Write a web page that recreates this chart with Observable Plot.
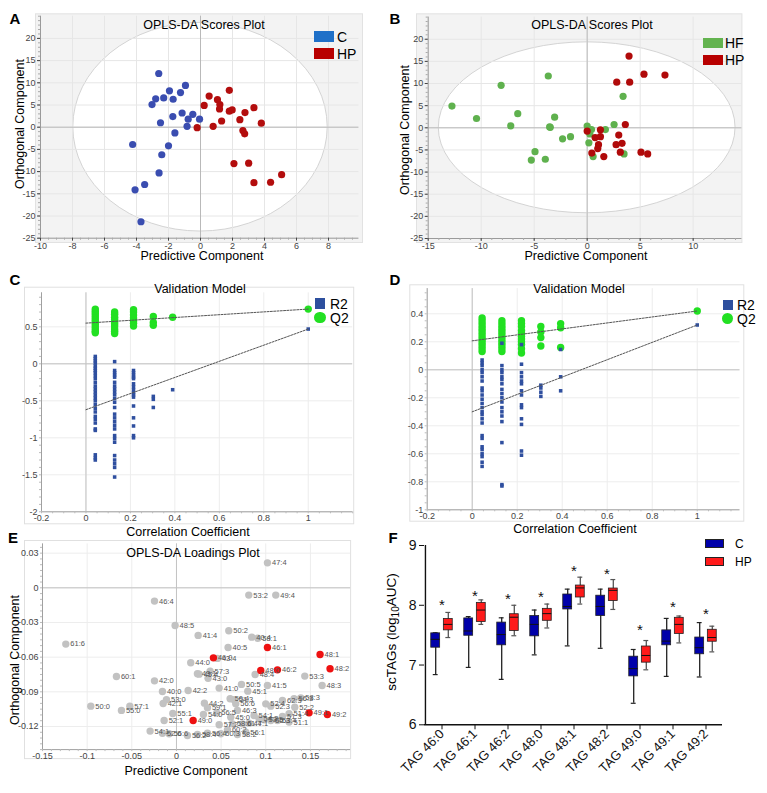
<!DOCTYPE html>
<html><head><meta charset="utf-8">
<script src="https://cdn.jsdelivr.net/npm/d3@7"></script>
<script src="https://cdn.jsdelivr.net/npm/@observablehq/plot@0.6"></script>
<style>
body{margin:0;background:#fff;}
#root{position:relative;width:767px;height:793px;overflow:hidden;font-family:"Liberation Sans",Arial,Helvetica,sans-serif;color:#000;}
#root svg{position:absolute;}
sub{font-size:10px;vertical-align:-3px;}
</style></head><body><div id="root"></div>
<script>
// ---------- DATA ----------
// Panel A: OPLS-DA scores, C vs HP  [predictive, orthogonal]
const scoresA_C = [[-2.61,12.1],[-0.94,9.4],[-1.94,8.2],[-1.25,7.8],[-2.8,6.4],[-2.3,6.6],[-1.71,6.3],[-3.03,5.1],[-1.15,3.2],[-0.48,2.9],[-1.73,2.4],[-0.77,1.8],[-0.06,1.8],[-2.5,1.0],[-0.84,0.2],[-1.6,-1.3],[-4.24,-3.9],[-2.0,-4.2],[-2.42,-6.2],[-2.59,-10.3],[-3.49,-12.9],[-4.09,-14.1],[-3.72,-21.3]];
const scoresA_HP = [[1.8,8.3],[0.54,7.0],[1.06,6.2],[0.23,4.9],[1.21,5.1],[1.19,4.1],[1.8,3.6],[1.98,3.9],[3.34,4.4],[2.78,3.3],[2.46,1.7],[1.32,1.4],[3.8,0.9],[-0.21,-0.1],[0.79,0.2],[2.65,-0.75],[2.76,-1.5],[2.09,-8.2],[3.01,-8.1],[3.34,-12.5],[4.38,-12.4],[5.07,-10.7]];
// Panel B: OPLS-DA scores, HF vs HP
const scoresB_HF = [[-3.67,11.7],[-8.12,9.6],[-12.76,4.9],[-10.44,2.1],[-6.55,3.2],[-7.21,0.45],[-3.07,2.4],[-3.54,0.2],[-3.48,0.1],[-2.32,-2.5],[-1.57,-2.0],[-4.92,-5.4],[-5.27,-7.3],[-3.95,-7.1],[0.0,0.4],[0.41,-0.4],[0.25,-1.4],[0.16,-3.4],[0.56,-6.5],[1.72,-0.4],[2.54,0.75],[3.39,7.1],[3.48,-5.9]];
const scoresB_HP = [[3.95,16.2],[5.36,12.1],[7.34,11.9],[2.79,10.3],[4.01,10.3],[3.6,0.75],[0.0,-0.75],[1.25,-0.45],[0.75,-2.2],[1.25,-2.0],[1.07,-3.8],[1.0,-4.7],[0.44,-5.7],[1.57,-6.5],[2.98,-1.65],[3.29,-3.5],[2.73,-3.8],[3.13,-5.5],[5.08,-5.5],[5.71,-5.9]];
const ellipseA = [7.95, 23.5];   // Hotelling T2 ellipse semi-axes
const ellipseB = [14.0, 19.3];
const scoresXTicksA = [-10,-8,-6,-4,-2,0,2,4,6,8];
const scoresXTicksB = [-15,-10,-5,0,5,10];
const scoresYTicks = [-25,-20,-15,-10,-5,0,5,10,15,20];

// Panel C: permutation validation (C vs HP)
const permXC = [0.042, 0.129, 0.214, 0.303, 0.39, 1.0];
const q2C = [[0.74,0.71,0.68,0.65,0.62,0.59,0.56,0.53,0.50,0.47,0.44,0.42],[0.70,0.67,0.63,0.60,0.57,0.54,0.51,0.47,0.44,0.41],[0.73,0.70,0.66,0.62,0.58,0.55,0.51],[0.64,0.56,0.52],[0.63],[0.74]];
const r2C = [[0.10,0.07,0.04,0.01,-0.03,-0.06,-0.09,-0.12,-0.16,-0.20,-0.25,-0.30,-0.34,-0.38,-0.42,-0.46,-0.50,-0.55,-0.60,-0.65,-0.71,-0.75,-0.80,-0.88,-0.90,-1.23,-1.27,-1.30],[0.03,-0.09,-0.12,-0.15,-0.18,-0.25,-0.30,-0.34,-0.38,-0.42,-0.47,-0.52,-0.59,-0.68,-0.73,-0.78,-0.83,-0.88,-0.97,-1.01,-1.06,-1.24,-1.30,-1.35,-1.40,-1.53],[-0.09,-0.12,-0.15,-0.18,-0.20,-0.27,-0.31,-0.35,-0.39,-0.42,-0.45,-0.57,-0.73,-0.84,-0.97,-1.00],[-0.44,-0.48,-0.59],[-0.35],[0.47]];
const q2LineC = [[0,0.55],[1,0.74]];
const r2LineC = [[0,-0.62],[1,0.47]];
const valXTicks = [-0.2,0,0.2,0.4,0.6,0.8,1];
const valYTicksC = [-2,-1.5,-1,-0.5,0,0.5];

// Panel D: permutation validation (HF vs HP)
const permXD = [0.044, 0.132, 0.219, 0.305, 0.393, 1.0];
const q2D = [[0.37,0.35,0.33,0.31,0.29,0.27,0.25,0.23,0.21,0.19,0.17,0.15,0.13],[0.35,0.33,0.31,0.29,0.27,0.25,0.23,0.21,0.19,0.17,0.15,0.13],[0.35,0.33,0.31,0.28,0.26,0.24,0.22,0.20,0.18,0.15,0.12],[0.31,0.27,0.23,0.17],[0.33,0.30,0.16],[0.42]];
const r2D = [[0.07,0.05,0.03,0.0,-0.02,-0.05,-0.08,-0.13,-0.15,-0.18,-0.21,-0.24,-0.27,-0.30,-0.32,-0.35,-0.38,-0.47,-0.49,-0.55,-0.57,-0.60,-0.62,-0.66,-0.69],[0.19,0.03,0.0,-0.02,-0.05,-0.07,-0.10,-0.14,-0.17,-0.20,-0.23,-0.27,-0.30,-0.33,-0.37,-0.52,-0.82,-0.83],[0.18,0.04,-0.02,-0.05,-0.08,-0.10,-0.15,-0.18,-0.25,-0.27,-0.35,-0.39,-0.58,-0.61],[-0.11,-0.13,-0.16,-0.19],[0.145,-0.05,-0.15],[0.32]];
const q2LineD = [[0,0.207],[1,0.42]];
const r2LineD = [[0,-0.30],[1,0.32]];
const valYTicksD = [-1,-0.8,-0.6,-0.4,-0.2,0,0.2,0.4];

// Panel E: loadings [label, predictive, orthogonal, significant]
const loadingLabels = ["47:4","53:2","49:4","46:4","48:5","41:4","50:2","40:4","58:1","61:6","40:5","46:1","46:0","43:4","44:0","57:3","43:1","45:4","43:0","48:4","60:1","42:0","48:0","46:2","50:5","41:5","53:3","48:3","48:1","48:2","41:0","45:1","40:0","42:2","53:0","42:1","50:0","57:1","55:0","44:2","59:1","54:0","56:5","55:1","52:1","49:0","50:4","54:3","56:6","46:3","52:4","52:3","62:3","56:3","58:3","52:2","49:1","49:2","45:0","54:1","54:2","53:5","55:3","53:4","51:4","51:1","51:3","57:2","58:6","61:4","54:1","52:6","56:6","56:2","58:4","56:4","60:3","60:2","58:2","56:1","47:1"];
const loadingX = [0.1019,0.0810,0.1112,-0.0246,-0.0015,0.0243,0.0586,0.0843,0.0910,-0.1239,0.0578,0.1019,0.0414,0.0459,0.0160,0.0377,0.0235,0.0254,0.0354,0.0881,-0.0672,-0.0246,0.0944,0.1131,0.0728,0.1019,0.1437,0.1631,0.1608,0.1720,0.0478,0.0799,-0.0157,0.0131,-0.0112,-0.0149,-0.0959,-0.0522,-0.0616,0.0313,0.0347,0.0302,0.0451,-0.0041,-0.0138,0.0187,0.0601,0.0646,0.0664,0.0683,0.1000,0.1056,0.1187,0.1317,0.1392,0.1325,0.1485,0.1690,0.0608,0.0869,0.0925,0.0981,0.1056,0.1131,0.1261,0.1261,0.1187,0.0478,0.0627,0.0739,-0.0295,-0.0157,-0.0082,0.0123,0.0235,0.0347,0.0496,0.0571,0.0683,0.0776,0.0813];
const loadingY = [0.0216,-0.0063,-0.0063,-0.0115,-0.0326,-0.0412,-0.0372,-0.0427,-0.0436,-0.0487,-0.0516,-0.0516,-0.0606,-0.0611,-0.0649,-0.0721,-0.0744,-0.0747,-0.0782,-0.0750,-0.0767,-0.0805,-0.0715,-0.0710,-0.0836,-0.0845,-0.0764,-0.0845,-0.0577,-0.0701,-0.0868,-0.0894,-0.0897,-0.0888,-0.0969,-0.1001,-0.1024,-0.1024,-0.1061,-0.0998,-0.1038,-0.1096,-0.1082,-0.1087,-0.1148,-0.1148,-0.0960,-0.0969,-0.1004,-0.1061,-0.1004,-0.1024,-0.0975,-0.0960,-0.0952,-0.1033,-0.1082,-0.1096,-0.1119,-0.1105,-0.1134,-0.1142,-0.1148,-0.1148,-0.1090,-0.1162,-0.1113,-0.1185,-0.1177,-0.1177,-0.1240,-0.1258,-0.1263,-0.1278,-0.1269,-0.1258,-0.1263,-0.1229,-0.1269,-0.1249,-0.1171];
const significantTAGs = ["46:0","46:1","46:2","48:0","48:1","48:2","49:0","49:1","49:2"];
const loadXTicks = [-0.15,-0.1,-0.05,0,0.05,0.1,0.15];
const loadYTicks = [-0.12,-0.09,-0.06,-0.03,0,0.03];

// Panel F: box plots of scTAGs (log10 AUC)
const tagCats = ["TAG 46:0","TAG 46:1","TAG 46:2","TAG 48:0","TAG 48:1","TAG 48:2","TAG 49:0","TAG 49:1","TAG 49:2"];
const cMin = [6.84,6.96,6.76,7.17,7.32,7.28,6.36,6.81,6.80];
const cQ1  = [7.29,7.49,7.33,7.48,7.93,7.82,6.81,7.33,7.18];
const cMed = [7.43,7.57,7.51,7.68,7.98,7.98,6.94,7.40,7.29];
const cQ3  = [7.53,7.78,7.71,7.82,8.18,8.16,7.14,7.58,7.46];
const cMax = [7.54,7.81,7.79,7.92,8.27,8.27,7.26,7.78,7.71];
const hpMin = [7.46,7.68,7.49,7.62,8.02,7.93,6.92,7.37,7.22];
const hpQ1  = [7.58,7.72,7.57,7.74,8.13,8.07,7.04,7.52,7.39];
const hpMed = [7.68,7.92,7.80,7.86,8.29,8.25,7.16,7.68,7.46];
const hpQ3  = [7.77,8.04,7.85,7.94,8.33,8.28,7.31,7.79,7.59];
const hpMax = [7.88,8.09,8.00,8.02,8.47,8.43,7.41,7.82,7.65];
const starY = [8.07,8.22,8.17,8.21,8.63,8.59,7.65,8.03,7.92];
const fYTicks = [6,7,8,9];

// ---------- HELPERS ----------
const root = document.getElementById("root");
const FONT = '"Liberation Sans", Arial, Helvetica, sans-serif';
const baseStyle = {fontFamily: FONT, background: "none", overflow: "visible"};
function put(svg, left, top) { svg.style.left = left + "px"; svg.style.top = top + "px"; root.appendChild(svg); }
function txt(content, x, y, {size = 13, weight = "normal", rotate = 0, anchor = "middle", color = "#000", html = false} = {}) {
  const d = document.createElement("div");
  if (html) d.innerHTML = content; else d.textContent = content;
  const tx = anchor === "middle" ? "-50%" : "0";
  Object.assign(d.style, {position: "absolute", left: x + "px", top: y + "px", transform: `translate(${tx},-50%) rotate(${rotate}deg)`,
    fontSize: size + "px", fontWeight: weight, color, whiteSpace: "nowrap", lineHeight: "1"});
  root.appendChild(d);
}
function box(x, y, w, h, color, {radius = 0, border = "none"} = {}) {
  const d = document.createElement("div");
  Object.assign(d.style, {position: "absolute", left: x + "px", top: y + "px", width: w + "px", height: h + "px", background: color, borderRadius: radius, border, boxSizing: "border-box"});
  root.appendChild(d);
}
const fmt = d => String(d);
const minorX = (n, stroke) => Plot.axisX({ticks: n, tickSize: 2, tickFormat: () => "", stroke, label: null});
const minorY = (n, stroke) => Plot.axisY({ticks: n, tickSize: 2, tickFormat: () => "", stroke, label: null});

function scoresPanel(o) {
  const pts = o.groups.flatMap(g => g.pts.map(([x, y]) => ({x, y, color: g.color})));
  const ellipse = (index, scales) => {
    const cx = scales.x(0), cy = scales.y(0);
    return d3.create("svg:ellipse").attr("cx", cx).attr("cy", cy)
      .attr("rx", Math.abs(scales.x(o.ell[0]) - cx)).attr("ry", Math.abs(scales.y(o.ell[1]) - cy))
      .attr("fill", "#fff").attr("stroke", "#cfcfcf").attr("stroke-width", 0.9).node();
  };
  return Plot.plot({
    width: o.width, height: o.height, marginLeft: o.mL, marginRight: o.mR, marginTop: o.mT, marginBottom: o.mB,
    x: {domain: o.xDom}, y: {domain: o.yDom}, style: baseStyle,
    marks: [
      Plot.frame({fill: "#f3f3f3", stroke: "#e2e2e2", ...o.inset}),
      ellipse,
      Plot.ruleX(o.xTicks, {stroke: "#e6e6e6"}),
      Plot.ruleY(o.yTicks, {stroke: "#e6e6e6"}),
      Plot.ruleX([0], {stroke: "#b9b9b9"}),
      Plot.ruleY([0], {stroke: "#b9b9b9"}),
      Plot.ruleX([o.xDom[0]], {stroke: "#9a9a9a"}),
      Plot.ruleY([o.yDom[0]], {stroke: "#9a9a9a"}),
      minorX(40, "#aaa"),
      minorY(40, "#aaa"),
      Plot.axisX({ticks: o.xTicks, tickSize: 3, tickPadding: 1, fontSize: 9, color: "#444", label: null, tickFormat: fmt}),
      Plot.axisY({ticks: o.yTicks, tickSize: 3, tickPadding: 2, fontSize: 9, color: "#444", label: null, tickFormat: fmt}),
      Plot.dot(pts, {x: "x", y: "y", r: 3.6, fill: "color"})
    ]
  });
}

function validationPanel(o) {
  const q = o.xs.flatMap((x, i) => o.q2[i].map(y => ({x, y})));
  const r = o.xs.flatMap((x, i) => o.r2[i].map(y => ({x, y})));
  const ql = o.q2Line.map(([x, y]) => ({x, y}));
  const rl = o.r2Line.map(([x, y]) => ({x, y}));
  return Plot.plot({
    width: o.width, height: o.height, marginLeft: o.mL, marginRight: o.mR, marginTop: o.mT, marginBottom: o.mB,
    x: {domain: o.xDom}, y: {domain: o.yDom}, style: baseStyle,
    marks: [
      Plot.frame({fill: "#fff", stroke: "#e0e0e0", ...o.inset}),
      Plot.ruleX(o.xTicks, {stroke: "#ededed"}),
      Plot.ruleY(o.yTicks, {stroke: "#ededed"}),
      Plot.ruleX([0], {stroke: "#c2c2c2"}),
      Plot.ruleY([0], {stroke: "#c2c2c2"}),
      Plot.ruleX([o.xDom[0]], {stroke: "#a0a0a0"}),
      Plot.ruleY([o.yDom[0]], {stroke: "#a0a0a0"}),
      minorX(35, "#bbb"),
      minorY(30, "#bbb"),
      Plot.axisX({ticks: o.xTicks, tickSize: 0, tickPadding: 3, fontSize: 9, color: "#444", label: null, tickFormat: fmt}),
      Plot.axisY({ticks: o.yTicks, tickSize: 0, tickPadding: 4, fontSize: 9, color: "#444", label: null, tickFormat: fmt}),
      Plot.dot(q, {x: "x", y: "y", r: 3.7, fill: "#22e022"}),
      Plot.dot(r, {x: "x", y: "y", r: 2, symbol: "square", fill: "#2f4f9f"}),
      Plot.line(ql, {x: "x", y: "y", stroke: "#555", strokeWidth: 1, strokeDasharray: "2,1.3"}),
      Plot.line(rl, {x: "x", y: "y", stroke: "#555", strokeWidth: 1, strokeDasharray: "2,1.3"})
    ]
  });
}

function loadingsPanel() {
  const pts = loadingLabels.map((l, i) => ({l, x: loadingX[i], y: loadingY[i], sig: significantTAGs.includes(l)}));
  const gray = pts.filter(d => !d.sig), red = pts.filter(d => d.sig);
  return Plot.plot({
    width: 380, height: 235, marginLeft: 42, marginRight: 29.9, marginTop: 13.4, marginBottom: 15.9,
    x: {domain: [-0.15, 0.195]}, y: {domain: [-0.14, 0.038]}, style: baseStyle,
    marks: [
      Plot.frame({fill: "#fff", stroke: "#e0e0e0", insetLeft: -18, insetTop: -3.4, insetBottom: -9, insetRight: 0}),
      Plot.ruleX(loadXTicks, {stroke: "#ededed"}),
      Plot.ruleY(loadYTicks, {stroke: "#ededed"}),
      Plot.ruleX([0], {stroke: "#c2c2c2"}),
      Plot.ruleY([0], {stroke: "#c2c2c2"}),
      Plot.ruleX([-0.15], {stroke: "#a0a0a0"}),
      Plot.ruleY([-0.14], {stroke: "#a0a0a0"}),
      minorX(35, "#bbb"),
      minorY(35, "#bbb"),
      Plot.axisX({ticks: loadXTicks, tickSize: 0, tickPadding: 3, fontSize: 9, color: "#444", label: null, tickFormat: fmt}),
      Plot.axisY({ticks: loadYTicks, tickSize: 0, tickPadding: 4, fontSize: 9, color: "#444", label: null, tickFormat: fmt}),
      Plot.dot(gray, {x: "x", y: "y", r: 3.7, fill: "#c2c2c2"}),
      Plot.dot(red, {x: "x", y: "y", r: 3.7, fill: "#ee1111"}),
      Plot.text(pts, {x: "x", y: "y", text: "l", dx: 4.5, textAnchor: "start", fontSize: 7.5, fill: "#555"})
    ]
  });
}

function boxPanel() {
  const groups = [
    {dx: -6.3, fill: "#0000aa", wh: "#222", min: cMin, q1: cQ1, med: cMed, q3: cQ3, max: cMax},
    {dx: 6.3, fill: "#ff1a1a", wh: "#555", min: hpMin, q1: hpQ1, med: hpMed, q3: hpQ3, max: hpMax}
  ];
  const bw = (387 - 44 - 45) / tagCats.length;
  const marks = [];
  for (const g of groups) {
    const data = tagCats.map((c, i) => ({c, min: g.min[i], q1: g.q1[i], med: g.med[i], q3: g.q3[i], max: g.max[i]}));
    marks.push(
      Plot.ruleX(data, {x: "c", y1: "min", y2: "max", dx: g.dx, stroke: g.wh, strokeWidth: 1.3}),
      Plot.tickY(data, {x: "c", y: "min", dx: g.dx, insetLeft: (bw - 5) / 2, insetRight: (bw - 5) / 2, stroke: g.wh, strokeWidth: 1.2}),
      Plot.tickY(data, {x: "c", y: "max", dx: g.dx, insetLeft: (bw - 5) / 2, insetRight: (bw - 5) / 2, stroke: g.wh, strokeWidth: 1.2}),
      Plot.barY(data, {x: "c", y1: "q1", y2: "q3", dx: g.dx, insetLeft: (bw - 9) / 2, insetRight: (bw - 9) / 2, fill: g.fill, stroke: "#222", strokeWidth: 0.8}),
      Plot.tickY(data, {x: "c", y: "med", dx: g.dx, insetLeft: (bw - 9) / 2, insetRight: (bw - 9) / 2, stroke: "#111", strokeWidth: 1})
    );
  }
  return Plot.plot({
    width: 387, height: 263, marginLeft: 44, marginRight: 45, marginTop: 15, marginBottom: 68.7,
    x: {type: "band", domain: tagCats, padding: 0}, y: {domain: [6, 9]}, style: baseStyle,
    marks: [
      Plot.ruleY([6], {stroke: "#111", strokeWidth: 1.4}),
      Plot.ruleX([tagCats[0]], {dx: -bw / 2, stroke: "#111", strokeWidth: 1.4}),
      Plot.axisY({ticks: fYTicks, tickSize: 5, tickPadding: 3, fontSize: 14, color: "#111", label: null, tickFormat: fmt}),
      Plot.axisX({tickRotate: -45, tickSize: 5, tickPadding: 2, fontSize: 13, color: "#111", label: null}),
      ...marks,
      Plot.text(tagCats, {x: d => d, y: (d, i) => starY[i], text: () => "*", fontSize: 15, dy: 4, fill: "#111"})
    ]
  });
}

// ---------- BUILD ----------
put(scoresPanel({width: 380, height: 252, mL: 40, mR: 21.6, mT: 15.7, mB: 14.3, xDom: [-10, 9.9], yDom: [-25, 25],
  xTicks: scoresXTicksA, yTicks: scoresYTicks, ell: ellipseA,
  inset: {insetLeft: -5, insetTop: -2.4, insetRight: -3.6, insetBottom: -4.3},
  groups: [{pts: scoresA_C, color: "#3a4db0"}, {pts: scoresA_HP, color: "#b30d0d"}]}), 0, 0);
put(scoresPanel({width: 387, height: 252, mL: 47.7, mR: 25.6, mT: 16.6, mB: 14, xDom: [-15, 14.6], yDom: [-25, 25],
  xTicks: scoresXTicksB, yTicks: scoresYTicks, ell: ellipseB,
  inset: {insetLeft: -11.7, insetTop: -3.3, insetRight: 0, insetBottom: -4},
  groups: [{pts: scoresB_HF, color: "#5fb14e"}, {pts: scoresB_HP, color: "#b00a0a"}]}), 380, 0);
put(validationPanel({width: 380, height: 250, mL: 41, mR: 27.8, mT: 12.3, mB: 18.7, xDom: [-0.2, 1.2], yDom: [-2, 0.96],
  xTicks: valXTicks, yTicks: valYTicksC, xs: permXC, q2: q2C, r2: r2C, q2Line: q2LineC, r2Line: r2LineC,
  inset: {insetLeft: -17, insetTop: -5.6, insetRight: -1, insetBottom: -12}}), 0, 280);
put(validationPanel({width: 387, height: 250, mL: 46.7, mR: 27.5, mT: 8.1, mB: 20.7, xDom: [-0.2, 1.19], yDom: [-1, 0.58],
  xTicks: valXTicks, yTicks: valYTicksD, xs: permXD, q2: q2D, r2: r2D, q2Line: q2LineD, r2Line: r2LineD,
  inset: {insetLeft: -17.4, insetTop: -3.8, insetRight: -3.8, insetBottom: -11.4}}), 380, 280);
put(loadingsPanel(), 0, 530);
put(boxPanel(), 380, 530);

// panel letters
txt("A", 15, 18, {size: 15, weight: "bold"});
txt("B", 395, 18, {size: 15, weight: "bold"});
txt("C", 15, 279, {size: 15, weight: "bold"});
txt("D", 395, 279, {size: 15, weight: "bold"});
txt("E", 13, 537, {size: 15, weight: "bold"});
txt("F", 393, 537, {size: 15, weight: "bold"});
// titles
txt("OPLS-DA Scores Plot", 204, 25, {size: 12.5});
txt("OPLS-DA Scores Plot", 592, 25, {size: 12.5});
txt("Validation Model", 200, 288.5, {size: 12.5});
txt("Validation Model", 579, 288.5, {size: 12.5});
txt("OPLS-DA Loadings Plot", 193, 553, {size: 12.5});
// axis titles
txt("Predictive Component", 202, 256, {size: 12.5});
txt("Orthogonal Component", 20, 124, {size: 12.5, rotate: -90});
txt("Predictive Component", 586, 256, {size: 12.5});
txt("Orthogonal Component", 405, 130, {size: 12.5, rotate: -90});
txt("Correlation Coefficient", 188, 531.5, {size: 12.5});
txt("Correlation Coefficient", 575, 529, {size: 12.5});
txt("Predictive Component", 186, 770.5, {size: 12.5});
txt("Orthogonal Component", 15, 660, {size: 12.5, rotate: -90});
txt("scTAGs (log<sub>10</sub>AUC)", 393, 632, {size: 13.5, rotate: -90, html: true});
// legends
box(314, 31, 20, 11, "#1f70c8"); txt("C", 337, 37, {size: 14, anchor: "start"});
box(314, 48, 20, 11, "#b80000"); txt("HP", 337, 54, {size: 14, anchor: "start"});
box(703, 37.5, 20, 10, "#63b34f"); txt("HF", 725, 43, {size: 14, anchor: "start"});
box(703, 54.5, 20, 10, "#b80000"); txt("HP", 725, 60, {size: 14, anchor: "start"});
box(315, 298, 10, 10.5, "#2d4f9e"); txt("R2", 330, 303.5, {size: 14, anchor: "start"});
box(314.3, 311.5, 11.4, 11.4, "#22e022", {radius: "50%"}); txt("Q2", 330, 317.5, {size: 14, anchor: "start"});
box(722.7, 299.5, 10, 10.5, "#2d4f9e"); txt("R2", 737, 305, {size: 14, anchor: "start"});
box(721.7, 312.5, 11.6, 11.6, "#22e022", {radius: "50%"}); txt("Q2", 737, 318.5, {size: 14, anchor: "start"});
box(705, 539, 19, 8.5, "#0000aa", {border: "1px solid #222"}); txt("C", 735, 543.5, {size: 12, anchor: "start"});
box(705, 557, 19, 8.5, "#ff1a1a", {border: "1px solid #222"}); txt("HP", 735, 561.5, {size: 12, anchor: "start"});
</script></body></html>
